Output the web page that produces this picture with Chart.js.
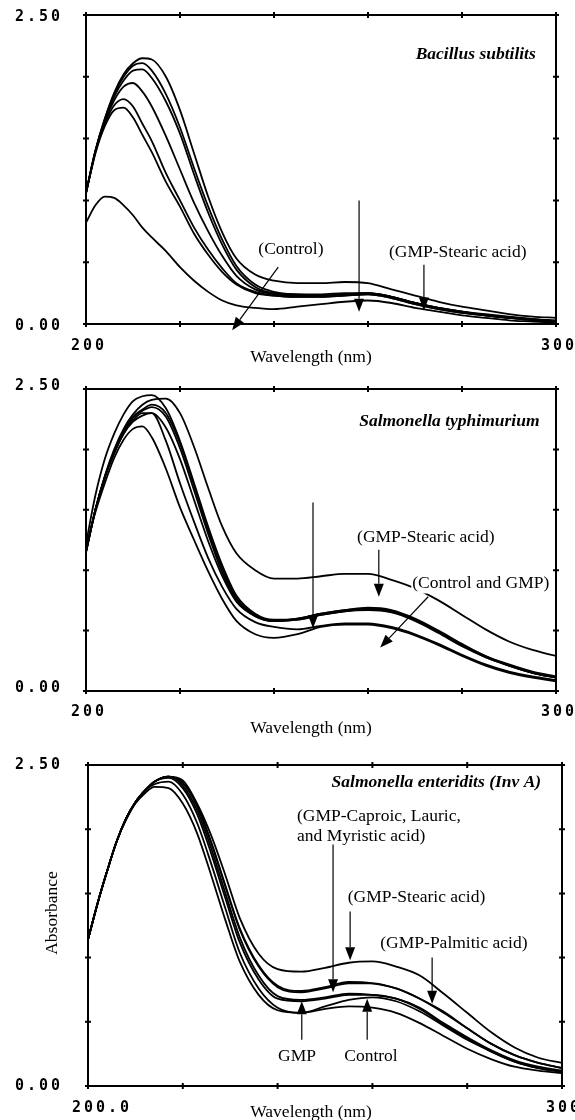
<!DOCTYPE html>
<html><head><meta charset="utf-8">
<script src="https://cdn.jsdelivr.net/npm/chart.js@4"></script>
<style>
html,body{margin:0;padding:0;background:#fff;}
body{width:575px;height:1120px;position:relative;overflow:hidden;}
canvas{position:absolute;left:0;}
</style></head><body>
<canvas id="c1" width="575" height="372" style="top:0px;width:575px;height:372px"></canvas>
<canvas id="c2" width="575" height="373" style="top:372px;width:575px;height:373px"></canvas>
<canvas id="c3" width="575" height="375" style="top:745px;width:575px;height:375px"></canvas>
<script>
// ---------- data ----------
const wavelengths = [200,202,204,206,208,210,212,214,217,220,223,226,229,232,236,240,245,250,255,260,265,270,275,280,285,290,295,300];
const yTickLabels = ['0.00','2.50'];
const xTickLabelsA = ['200','300'];
const xTickLabelsB = ['200.0','300.0'];

// Panel 1 : Bacillus subtilits
const bsControl = [0.82,0.96,1.03,1.02,0.96,0.88,0.78,0.70,0.59,0.46,0.35,0.26,0.19,0.15,0.13,0.12,0.14,0.16,0.18,0.19,0.17,0.13,0.10,0.07,0.05,0.03,0.02,0.01];
const bsB = [1.06,1.38,1.60,1.73,1.75,1.67,1.53,1.39,1.15,0.95,0.73,0.56,0.42,0.32,0.25,0.23,0.22,0.22,0.23,0.24,0.21,0.16,0.12,0.09,0.07,0.05,0.03,0.02];
const bsC = [1.06,1.39,1.62,1.77,1.82,1.76,1.62,1.48,1.22,1.00,0.78,0.60,0.45,0.33,0.26,0.23,0.22,0.22,0.23,0.24,0.21,0.16,0.12,0.09,0.07,0.05,0.03,0.02];
const bsD = [1.06,1.40,1.64,1.81,1.92,1.95,1.88,1.76,1.52,1.25,0.98,0.75,0.55,0.39,0.28,0.24,0.23,0.23,0.24,0.25,0.22,0.17,0.13,0.10,0.07,0.05,0.04,0.02];
const bsE = [1.06,1.40,1.65,1.84,1.97,2.05,2.06,1.99,1.80,1.54,1.21,0.90,0.64,0.44,0.30,0.25,0.24,0.23,0.24,0.25,0.22,0.17,0.13,0.10,0.07,0.05,0.04,0.02];
const bsF = [1.06,1.40,1.66,1.86,2.00,2.09,2.11,2.05,1.86,1.59,1.26,0.95,0.68,0.47,0.32,0.26,0.24,0.24,0.25,0.25,0.22,0.17,0.13,0.10,0.08,0.06,0.04,0.03];
const bsStearic = [1.06,1.40,1.66,1.87,2.02,2.11,2.15,2.14,2.00,1.73,1.38,1.03,0.74,0.53,0.40,0.35,0.33,0.33,0.34,0.33,0.28,0.23,0.18,0.14,0.11,0.08,0.06,0.05];

// Panel 2 : Salmonella typhimurium
const stA = [1.19,1.48,1.72,1.93,2.08,2.17,2.19,2.10,1.84,1.52,1.25,0.99,0.76,0.58,0.47,0.44,0.47,0.53,0.55,0.55,0.52,0.46,0.38,0.29,0.21,0.15,0.11,0.08];
const stB = [1.15,1.50,1.77,1.97,2.13,2.24,2.30,2.30,2.07,1.72,1.40,1.10,0.86,0.68,0.57,0.53,0.51,0.54,0.56,0.56,0.53,0.47,0.39,0.30,0.22,0.16,0.12,0.09];
const stC = [1.15,1.50,1.77,1.97,2.13,2.23,2.28,2.30,2.18,1.92,1.58,1.24,0.95,0.74,0.62,0.58,0.59,0.63,0.66,0.67,0.65,0.58,0.48,0.37,0.28,0.21,0.15,0.11];
const stD = [1.15,1.50,1.77,1.98,2.15,2.27,2.33,2.37,2.30,2.05,1.70,1.33,1.01,0.77,0.63,0.58,0.60,0.64,0.67,0.68,0.66,0.59,0.49,0.38,0.29,0.21,0.15,0.11];
const stE = [1.15,1.50,1.77,1.98,2.14,2.26,2.32,2.35,2.27,2.01,1.66,1.30,0.98,0.76,0.62,0.58,0.59,0.63,0.66,0.68,0.66,0.59,0.49,0.38,0.28,0.21,0.15,0.11];
const stF = [1.22,1.62,1.92,2.13,2.29,2.40,2.44,2.45,2.34,2.07,1.72,1.36,1.04,0.79,0.64,0.59,0.60,0.64,0.67,0.69,0.67,0.60,0.50,0.39,0.29,0.22,0.16,0.12];
const stStearic = [1.15,1.50,1.78,2.00,2.17,2.29,2.37,2.41,2.42,2.30,2.02,1.68,1.36,1.14,1.00,0.93,0.93,0.95,0.97,0.97,0.92,0.85,0.75,0.63,0.51,0.41,0.34,0.29];

// Panel 3 : Salmonella enteridits (Inv A)
const seControl = [1.14,1.42,1.67,1.90,2.07,2.20,2.28,2.33,2.32,2.20,1.97,1.64,1.29,0.97,0.71,0.59,0.57,0.60,0.62,0.61,0.57,0.49,0.39,0.29,0.21,0.15,0.12,0.10];
const seGMP = [1.14,1.42,1.67,1.90,2.08,2.21,2.30,2.35,2.37,2.27,2.05,1.73,1.38,1.04,0.76,0.61,0.57,0.62,0.67,0.69,0.66,0.58,0.47,0.36,0.27,0.19,0.14,0.11];
const seMyristic = [1.14,1.42,1.67,1.90,2.08,2.21,2.30,2.37,2.40,2.32,2.12,1.81,1.46,1.12,0.83,0.68,0.66,0.68,0.71,0.71,0.68,0.60,0.48,0.37,0.27,0.19,0.14,0.11];
const sePalmitic = [1.14,1.42,1.67,1.90,2.08,2.21,2.30,2.37,2.41,2.34,2.15,1.85,1.50,1.16,0.86,0.70,0.67,0.69,0.72,0.71,0.68,0.61,0.49,0.38,0.28,0.20,0.15,0.12];
const seCaproic = [1.14,1.42,1.67,1.90,2.08,2.21,2.30,2.37,2.41,2.36,2.19,1.90,1.56,1.23,0.94,0.78,0.74,0.77,0.81,0.80,0.76,0.68,0.58,0.45,0.33,0.24,0.18,0.14];
const seLauric = [1.14,1.42,1.67,1.90,2.08,2.21,2.30,2.37,2.41,2.36,2.18,1.89,1.55,1.22,0.93,0.77,0.73,0.76,0.80,0.80,0.76,0.68,0.57,0.45,0.33,0.24,0.18,0.14];
const seStearic = [1.14,1.42,1.67,1.90,2.08,2.21,2.30,2.37,2.41,2.38,2.20,1.95,1.64,1.31,1.03,0.91,0.89,0.92,0.96,0.97,0.93,0.86,0.72,0.57,0.42,0.30,0.22,0.18];

// ---------- annotations (data coordinates) ----------
const notes1 = {
  texts: [
    {t:'Bacillus subtilits', x:295.7, y:2.18, align:'right', bi:true},
    {t:'(Control)', x:243.6, y:0.60, align:'center'},
    {t:'(GMP-Stearic acid)', x:279.1, y:0.58, align:'center'}
  ],
  arrows: [
    {from:[240.9,0.46], to:[231.1,-0.05]},
    {from:[258.1,1.00], to:[258.1,0.10]},
    {from:[271.9,0.48], to:[271.9,0.11]}
  ]
};
const notes2 = {
  texts: [
    {t:'Salmonella typhimurium', x:296.5, y:2.23, align:'right', bi:true},
    {t:'(GMP-Stearic acid)', x:272.3, y:1.27, align:'center'},
    {t:'(Control and GMP)', x:284.0, y:0.89, align:'center', bg:true}
  ],
  arrows: [
    {from:[248.3,1.56], to:[248.3,0.52]},
    {from:[262.3,1.17], to:[262.3,0.78]},
    {from:[272.8,0.78], to:[262.6,0.36]}
  ]
};
const notes3 = {
  texts: [
    {t:'Salmonella enteridits (Inv A)', x:295.6, y:2.36, align:'right', bi:true},
    {t:'(GMP-Caproic, Lauric,', x:244.1, y:2.10, align:'left'},
    {t:'and Myristic acid)', x:244.1, y:1.94, align:'left'},
    {t:'(GMP-Stearic acid)', x:269.3, y:1.47, align:'center'},
    {t:'(GMP-Palmitic acid)', x:277.2, y:1.11, align:'center'},
    {t:'GMP', x:244.1, y:0.23, align:'center'},
    {t:'Control', x:259.7, y:0.23, align:'center'}
  ],
  arrows: [
    {from:[251.7,1.88], to:[251.7,0.73]},
    {from:[255.3,1.36], to:[255.3,0.98]},
    {from:[272.6,1.00], to:[272.6,0.64]},
    {from:[245.1,0.36], to:[245.1,0.66]},
    {from:[258.9,0.36], to:[258.9,0.68]}
  ]
};

const SERIF = '"Liberation Serif", "Times New Roman", serif';

function drawArrow(ctx, x1, y1, x2, y2) {
  const ang = Math.atan2(y2 - y1, x2 - x1), L = 13, H = 5;
  const bx = x2 - L * Math.cos(ang), by = y2 - L * Math.sin(ang);
  ctx.beginPath(); ctx.moveTo(x1, y1); ctx.lineTo(bx, by); ctx.stroke();
  ctx.beginPath(); ctx.moveTo(x2, y2);
  ctx.lineTo(bx - H * Math.sin(ang), by + H * Math.cos(ang));
  ctx.lineTo(bx + H * Math.sin(ang), by - H * Math.cos(ang));
  ctx.closePath(); ctx.fill();
}

function decorPlugin(p) {
  return {
    id: 'decor',
    beforeDraw(chart) { chart.ctx.letterSpacing = '3px'; },
    afterDraw(chart) {
      const {ctx, chartArea: a, scales: {x, y}} = chart;
      ctx.save();
      ctx.letterSpacing = '0px';
      ctx.strokeStyle = '#000'; ctx.fillStyle = '#000';
      ctx.lineWidth = 2;
      ctx.strokeRect(a.left, a.top, a.right - a.left, a.bottom - a.top);
      ctx.beginPath();
      x.ticks.forEach(t => {
        const px = x.getPixelForValue(t.value);
        ctx.moveTo(px, a.bottom - 3); ctx.lineTo(px, a.bottom + 3);
        ctx.moveTo(px, a.top - 3); ctx.lineTo(px, a.top + 3);
      });
      y.ticks.forEach(t => {
        const py = y.getPixelForValue(t.value);
        ctx.moveTo(a.left - 3, py); ctx.lineTo(a.left + 3, py);
        ctx.moveTo(a.right - 3, py); ctx.lineTo(a.right + 3, py);
      });
      ctx.stroke();
      // annotation texts
      ctx.textBaseline = 'middle';
      p.notes.texts.forEach(n => {
        ctx.font = (n.bi ? 'bold italic ' : '') + '17.5px ' + SERIF;
        ctx.textAlign = n.align;
        const px = x.getPixelForValue(n.x), py = y.getPixelForValue(n.y);
        if (n.bg) {
          const w = ctx.measureText(n.t).width;
          const lx = n.align === 'center' ? px - w / 2 : (n.align === 'right' ? px - w : px);
          ctx.fillStyle = '#fff';
          ctx.fillRect(lx - 1, py - 10, w + 2, 20);
          ctx.fillStyle = '#000';
        }
        ctx.fillText(n.t, px, py);
      });
      // arrows
      ctx.lineWidth = 1.2;
      p.notes.arrows.forEach(ar => {
        drawArrow(ctx, x.getPixelForValue(ar.from[0]), y.getPixelForValue(ar.from[1]),
                       x.getPixelForValue(ar.to[0]), y.getPixelForValue(ar.to[1]));
      });
      // axis titles
      ctx.font = '17.5px ' + SERIF;
      ctx.textAlign = 'center';
      ctx.fillText('Wavelength (nm)', a.left + p.xTitleDx, p.xTitleY);
      if (p.yTitle) {
        ctx.save();
        ctx.translate(p.yTitle.x, p.yTitle.y);
        ctx.rotate(-Math.PI / 2);
        ctx.fillText('Absorbance', 0, 0);
        ctx.restore();
      }
      ctx.restore();
    }
  };
}

function makeChart(id, p) {
  return new Chart(document.getElementById(id), {
    type: 'line',
    data: {
      datasets: p.series.map(s => ({
        data: wavelengths.map((w, i) => ({x: w, y: s[i]})),
        borderColor: '#000', borderWidth: 1.8, pointRadius: 0, fill: false,
        cubicInterpolationMode: 'monotone'
      }))
    },
    options: {
      responsive: false, animation: false, events: [],
      layout: {padding: {left: 0, right: 575 - p.right, top: p.top, bottom: 0}},
      plugins: {legend: {display: false}, tooltip: {enabled: false}, title: {display: false}},
      scales: {
        x: {
          type: 'linear', min: 200, max: 300,
          grid: {display: false, drawTicks: false}, border: {display: false},
          ticks: {
            stepSize: 20, autoSkip: false, maxRotation: 0, minRotation: 0,
            padding: p.xPad, labelOffset: p.xOff, color: '#000',
            font: {family: 'DejaVu Sans Mono', size: 15, weight: 'bold'},
            callback: v => v === 200 ? p.xLabels[0] : (v === 300 ? p.xLabels[1] : '')
          },
          afterFit: s => { s.height = p.xH; s.paddingLeft = 0; s.paddingRight = 0; }
        },
        y: {
          type: 'linear', min: 0, max: 2.5,
          grid: {display: false, drawTicks: false}, border: {display: false},
          ticks: {
            stepSize: 0.5, autoSkip: false, padding: p.yPad, labelOffset: p.yOff, color: '#000',
            font: {family: 'DejaVu Sans Mono', size: 15, weight: 'bold'},
            callback: v => v === 0 ? yTickLabels[0] : (v === 2.5 ? yTickLabels[1] : '')
          },
          afterFit: s => { s.width = p.left; s.paddingTop = 0; s.paddingBottom = 0; }
        }
      }
    },
    plugins: [decorPlugin(p)]
  });
}

makeChart('c1', {
  series: [bsControl, bsB, bsC, bsD, bsE, bsF, bsStearic], notes: notes1,
  left: 86, right: 556, top: 15, xH: 48, xPad: 13, xOff: 3, yPad: 23, yOff: 2,
  xLabels: xTickLabelsA, xTitleDx: 225, xTitleY: 357
});
makeChart('c2', {
  series: [stA, stB, stC, stD, stE, stF, stStearic], notes: notes2,
  left: 86, right: 556, top: 17, xH: 54, xPad: 12, xOff: 3, yPad: 23, yOff: -3,
  xLabels: xTickLabelsA, xTitleDx: 225, xTitleY: 356
});
makeChart('c3', {
  series: [seControl, seGMP, seMyristic, sePalmitic, seCaproic, seLauric, seStearic], notes: notes3,
  left: 88, right: 562, top: 20, xH: 34, xPad: 13, xOff: 14, yPad: 25, yOff: 0,
  xLabels: xTickLabelsB, xTitleDx: 223, xTitleY: 367, yTitle: {x: 52, y: 168}
});
</script>
</body></html>
